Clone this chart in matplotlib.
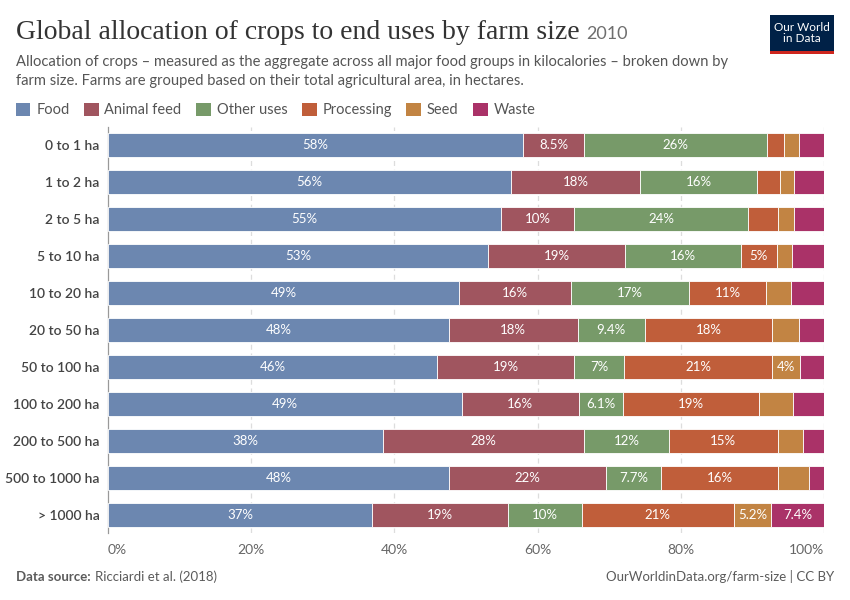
import matplotlib.pyplot as plt
from matplotlib.patches import Rectangle, Patch

# =========================
# Data
# =========================
farm_sizes = ["0 to 1 ha", "1 to 2 ha", "2 to 5 ha", "5 to 10 ha", "10 to 20 ha",
              "20 to 50 ha", "50 to 100 ha", "100 to 200 ha", "200 to 500 ha",
              "500 to 1000 ha", "> 1000 ha"]
uses = ["Food", "Animal feed", "Other uses", "Processing", "Seed", "Waste"]

food = [58.0, 56.3, 54.9, 53.1, 49.0, 47.6, 46.0, 49.4, 38.4, 47.6, 36.9]
animal_feed = [8.5, 18.0, 10.2, 19.1, 15.6, 18.0, 19.1, 16.4, 28.1, 22.0, 18.9]
other_uses = [25.6, 16.4, 24.3, 16.2, 16.6, 9.4, 7.0, 6.1, 11.8, 7.7, 10.4]
processing = [2.3, 3.2, 4.2, 5.0, 10.7, 17.7, 20.6, 19.0, 15.3, 16.3, 21.2]
seed = [2.1, 1.9, 2.2, 2.2, 3.5, 3.8, 4.0, 4.8, 3.4, 4.3, 5.2]
waste = [3.5, 4.2, 4.2, 4.4, 4.6, 3.5, 3.3, 4.3, 3.0, 2.1, 7.4]

series = [food, animal_feed, other_uses, processing, seed, waste]
colors = ["#6C87B0", "#A0555F", "#779A69", "#C05E3A", "#C28443", "#AA3268"]

plt.rcParams["font.family"] = ["Lato", "DejaVu Sans"]

W, H = 850, 600
fig = plt.figure(figsize=(W / 100, H / 100), dpi=100)

# axes placed in pixel coordinates
ax_left, ax_right, ax_top, ax_bottom = 108, 824, 127, 533
ax = fig.add_axes([ax_left / W, 1 - ax_bottom / H,
                   (ax_right - ax_left) / W, (ax_bottom - ax_top) / H])

# =========================
# Stacked bars
# =========================
ypos = list(range(len(farm_sizes)))
left = [0.0] * len(farm_sizes)
bar_h = 0.65
seg_labels = []
for name, vals, col in zip(uses, series, colors):
    ax.barh(ypos, vals, left=left, height=bar_h, color=col,
            edgecolor="white", linewidth=0.6, label=name, zorder=3)
    for i, v in enumerate(vals):
        t = ax.text(left[i] + v / 2, i, f"{v:.2g}%", ha="center", va="center",
                    color="white", fontsize=9.5, zorder=4)
        seg_labels.append((t, v))
    left = [a + b for a, b in zip(left, vals)]

ax.set_xlim(0, 100)
ax.set_ylim(len(farm_sizes) - 0.5, -0.5)
ax.set_yticks(ypos)
ax.set_yticklabels(farm_sizes, fontsize=10, color="#444444", fontweight="semibold")
ax.set_xticks([0, 20, 40, 60, 80, 100])
ax.set_xticklabels(["0%", "20%", "40%", "60%", "80%", "100%"], fontsize=10, color="#666666")
xt = ax.get_xticklabels()
xt[0].set_ha("left")
xt[-1].set_ha("right")
ax.tick_params(axis="both", length=0)
ax.tick_params(axis="x", pad=8)
ax.tick_params(axis="y", pad=6)

for s in ["top", "right", "bottom"]:
    ax.spines[s].set_visible(False)
ax.spines["left"].set_color("#999999")
ax.spines["left"].set_linewidth(0.9)

for x in [20, 40, 60, 80, 100]:
    ax.axvline(x, color="#dddddd", linewidth=0.9, linestyle=(0, (4, 3)), zorder=1)

# hide labels that don't fit their segment
fig.canvas.draw()
renderer = fig.canvas.get_renderer()
px_per_pct = (ax_right - ax_left) / 100
for t, v in seg_labels:
    w = t.get_window_extent(renderer).width
    if w + 6 > v * px_per_pct:
        t.remove()

# =========================
# Header, legend, footer
# =========================
title = fig.text(16 / W, 1 - 39 / H, "Global allocation of crops to end uses by farm size",
                 fontsize=20, family=["Liberation Serif", "DejaVu Serif"],
                 color="#333333", va="baseline")
fig.canvas.draw()
bb = title.get_window_extent(renderer)
fig.text((bb.x1 + 7) / W, 1 - 39 / H, "2010", fontsize=13, color="#6e6e6e", va="baseline")

fig.text(16 / W, 1 - 66 / H,
         "Allocation of crops – measured as the aggregate across all major food groups in kilocalories – broken down by",
         fontsize=10.65, color="#555555", va="baseline")
fig.text(16 / W, 1 - 85 / H,
         "farm size. Farms are grouped based on their total agricultural area, in hectares.",
         fontsize=10.65, color="#555555", va="baseline")

handles = [Patch(facecolor=c, edgecolor="none", label=n) for n, c in zip(uses, colors)]
fig.legend(handles=handles, loc="center left", bbox_to_anchor=(10 / W, 1 - 110 / H),
           ncol=6, frameon=False, fontsize=10.5, handlelength=1.0, handleheight=1.0,
           handletextpad=0.4, columnspacing=1.0, labelcolor="#555555", borderaxespad=0)

# logo
logo = Rectangle((770 / W, 1 - 52 / H), 64 / W, 37 / H, transform=fig.transFigure,
                 facecolor="#002147", edgecolor="none")
fig.patches.append(logo)
red = Rectangle((770 / W, 1 - 54 / H), 64 / W, 3 / H, transform=fig.transFigure,
                facecolor="#CE261E", edgecolor="none")
fig.patches.append(red)
fig.text(802 / W, 1 - 33 / H, "Our World\nin Data", ha="center", va="center",
         color="white", fontsize=8.5, linespacing=1.0)

src = fig.text(16 / W, 1 - 581 / H, "Data source:", fontsize=9.5, color="#5b5b5b",
               fontweight="bold", va="baseline")
fig.canvas.draw()
sb = src.get_window_extent(renderer)
fig.text((sb.x1 + 4) / W, 1 - 581 / H, "Ricciardi et al. (2018)", fontsize=9.5,
         color="#5b5b5b", va="baseline")
fig.text(834 / W, 1 - 581 / H, "OurWorldinData.org/farm-size | CC BY", fontsize=9.5,
         color="#5b5b5b", ha="right", va="baseline")

fig.savefig("out.png", dpi=100, facecolor="white")
